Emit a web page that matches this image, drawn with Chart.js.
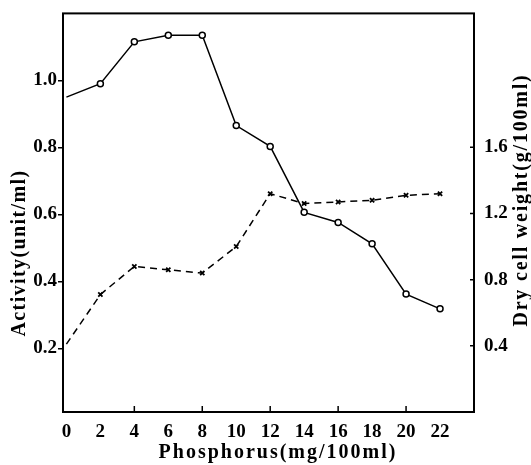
<!DOCTYPE html>
<html>
<head>
<meta charset="utf-8">
<script src="https://cdn.jsdelivr.net/npm/chart.js@4"></script>
<style>
  body { margin: 0; background: #fff; }
  canvas { display: block; }
</style>
</head>
<body>
<canvas id="myChart" width="531" height="465"></canvas>
<script>
const phosphorus = [0, 2, 4, 6, 8, 10, 12, 14, 16, 18, 20, 22];
const activity = [0.95, 0.99, 1.115, 1.135, 1.135, 0.865, 0.803, 0.606, 0.576, 0.512, 0.362, 0.318];
const dryWeight = [0.41, 0.71, 0.88, 0.86, 0.84, 1.0, 1.32, 1.26, 1.27, 1.28, 1.31, 1.32];
const xTicks = [0, 2, 4, 6, 8, 10, 12, 14, 16, 18, 20, 22];
const xMarks = [4, 8, 12, 16, 20];
const leftTicks = [0.2, 0.4, 0.6, 0.8, 1.0];
const rightTicks = [0.4, 0.8, 1.2, 1.6];

const serif = "'Liberation Serif', 'DejaVu Serif', serif";
const font = { family: serif, weight: 'bold', size: 19 };

// box round the plot, inner tick marks, and the three axis titles
const frame = {
    id: 'frame',
    afterDraw(chart) {
        const a = chart.chartArea;
        const ctx = chart.ctx;
        ctx.save();
        ctx.strokeStyle = '#000';
        ctx.lineWidth = 2;
        ctx.strokeRect(a.left, a.top, a.right - a.left, a.bottom - a.top);

        ctx.lineWidth = 1.5;
        ctx.beginPath();
        xMarks.forEach(v => {
            const px = chart.scales.x.getPixelForValue(v);
            ctx.moveTo(px, a.bottom);
            ctx.lineTo(px, a.bottom - 6);
        });
        rightTicks.forEach(v => {
            const py = chart.scales.y1.getPixelForValue(v);
            ctx.moveTo(a.right, py);
            ctx.lineTo(a.right - 4, py);
        });
        ctx.stroke();

        ctx.fillStyle = '#000';
        ctx.font = 'bold 20px ' + serif;
        ctx.textAlign = 'center';
        ctx.textBaseline = 'middle';
        ctx.letterSpacing = '2px';
        ctx.fillText('Phosphorus(mg/100ml)', 278, 453);

        ctx.letterSpacing = '1.4px';
        ctx.translate(20, 253);
        ctx.rotate(-Math.PI / 2);
        ctx.fillText('Activity(unit/ml)', 0, 0);
        ctx.setTransform(1, 0, 0, 1, 0, 0);

        ctx.letterSpacing = '1.8px';
        ctx.translate(522, 200);
        ctx.rotate(-Math.PI / 2);
        ctx.fillText('Dry cell weight(g/100ml)', 0, 0);
        ctx.letterSpacing = '0px';
        ctx.restore();
    }
};

const data = {
    datasets: [{
        label: 'Activity',
        data: phosphorus.map((p, i) => ({ x: p, y: activity[i] })),
        yAxisID: 'y',
        borderColor: '#000',
        borderWidth: 1.5,
        backgroundColor: '#fff',
        pointStyle: 'circle',
        pointRadius: phosphorus.map((p, i) => i === 0 ? 0 : 3),
        pointBorderWidth: 1.5,
        pointBorderColor: '#000',
        pointBackgroundColor: '#fff'
    },
    {
        label: 'Dry cell weight',
        data: phosphorus.map((p, i) => ({ x: p, y: dryWeight[i] })),
        yAxisID: 'y1',
        borderColor: '#000',
        borderWidth: 1.5,
        borderDash: [7, 5],
        pointStyle: 'crossRot',
        pointRadius: phosphorus.map((p, i) => i === 0 ? 0 : 3),
        pointBorderWidth: 1.8,
        pointBorderColor: '#000'
    }]
};

const config = {
    type: 'line',
    data,
    options: {
        responsive: false,
        animation: false,
        layout: { padding: { top: 5 } },
        plugins: { legend: { display: false }, tooltip: { enabled: false } },
        scales: {
            x: {
                type: 'linear',
                min: -0.2,
                max: 24,
                afterBuildTicks: s => { s.ticks = xTicks.map(v => ({ value: v })); },
                afterFit: s => { s.height = 53; },
                grid: { display: false },
                border: { display: false },
                ticks: { color: '#000', font, padding: 1, maxRotation: 0 }
            },
            y: {
                position: 'left',
                min: 0.01,
                max: 1.2,
                afterBuildTicks: s => { s.ticks = leftTicks.map(v => ({ value: v })); },
                afterFit: s => { s.width = 63; },
                grid: { drawOnChartArea: false, tickLength: 5, color: '#000', lineWidth: 1.5 },
                border: { display: false },
                ticks: { color: '#000', font, padding: 1, callback: v => v.toFixed(1) }
            },
            y1: {
                position: 'right',
                min: 0,
                max: 2.41,
                afterBuildTicks: s => { s.ticks = rightTicks.map(v => ({ value: v })); },
                afterFit: s => { s.width = 57; },
                grid: { display: false },
                border: { display: false },
                ticks: { color: '#000', font, padding: 2, callback: v => v.toFixed(1) }
            }
        }
    },
    plugins: [frame]
};

const myChart = new Chart(document.getElementById('myChart'), config);
</script>
</body>
</html>
